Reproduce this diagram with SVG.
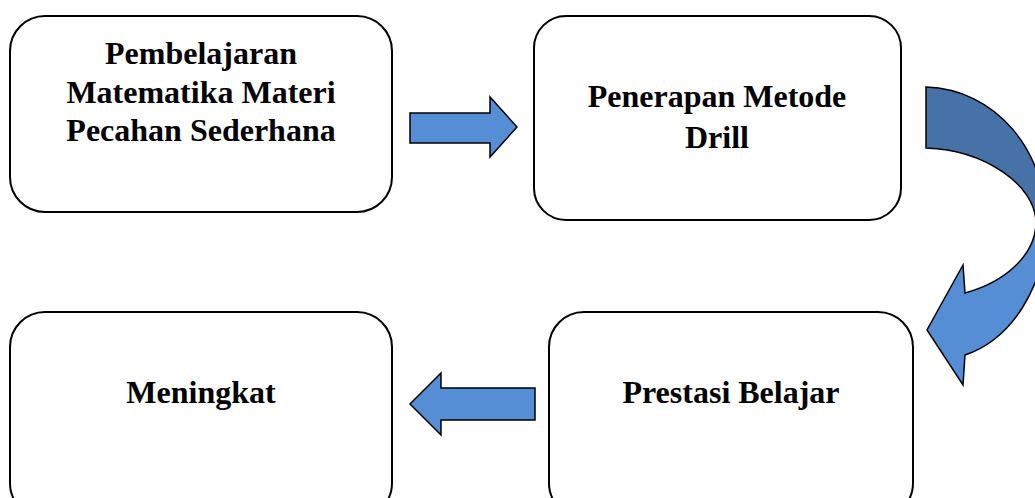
<svg xmlns="http://www.w3.org/2000/svg" width="1035" height="498" viewBox="0 0 1035 498">
<defs>
<style>
.box{fill:#fff;stroke:#000;stroke-width:2}
.lbl{font-family:"Liberation Serif","Times New Roman",serif;font-weight:bold;font-size:32px;fill:#000;text-anchor:middle}
.arr{fill:#558ed5;stroke:#000;stroke-width:1.5;stroke-linejoin:miter}
</style>
<linearGradient id="cg" gradientUnits="userSpaceOnUse" x1="0" y1="80" x2="0" y2="390">
<stop offset="0" stop-color="#4672a8"/>
<stop offset="0.455" stop-color="#4672a8"/>
<stop offset="0.455" stop-color="#558ed5"/>
<stop offset="1" stop-color="#558ed5"/>
</linearGradient>
</defs>
<g id="node1">
<rect class="box" x="10" y="16" width="382" height="196" rx="35" ry="35"/>
<text class="lbl" x="201" y="64">Pembelajaran</text>
<text class="lbl" x="201" y="103">Matematika Materi</text>
<text class="lbl" x="201" y="141">Pecahan Sederhana</text>
</g>
<g id="node2">
<rect class="box" x="534" y="16" width="367" height="204" rx="32" ry="32"/>
<text class="lbl" x="717" y="107">Penerapan Metode</text>
<text class="lbl" x="717" y="148">Drill</text>
</g>
<g id="node3">
<rect class="box" x="10" y="312" width="382" height="206" rx="35" ry="35"/>
<text class="lbl" x="201" y="403">Meningkat</text>
</g>
<g id="node4">
<rect class="box" x="549" y="312" width="364" height="206" rx="35" ry="35"/>
<text class="lbl" x="731" y="403">Prestasi Belajar</text>
</g>
<g id="connectors">
<path class="arr" d="M410,113 L490,113 L490,97 L517,127 L490,157 L490,143 L410,143 Z"/>
<path class="arr" d="M535,388 L441,388 L441,373 L410,404 L441,435 L441,420 L535,420 Z"/>
<path d="M926,87 C995,89 1046,150 1046,223 C1046,288 1010,340 965,355 L963,385 L927,330 L963,265 L965,293 C1005,282 1036,255 1036,222 C1035,185 985,150 926,148 Z" fill="url(#cg)" stroke="#000" stroke-width="1.5"/>
</g>
</svg>
